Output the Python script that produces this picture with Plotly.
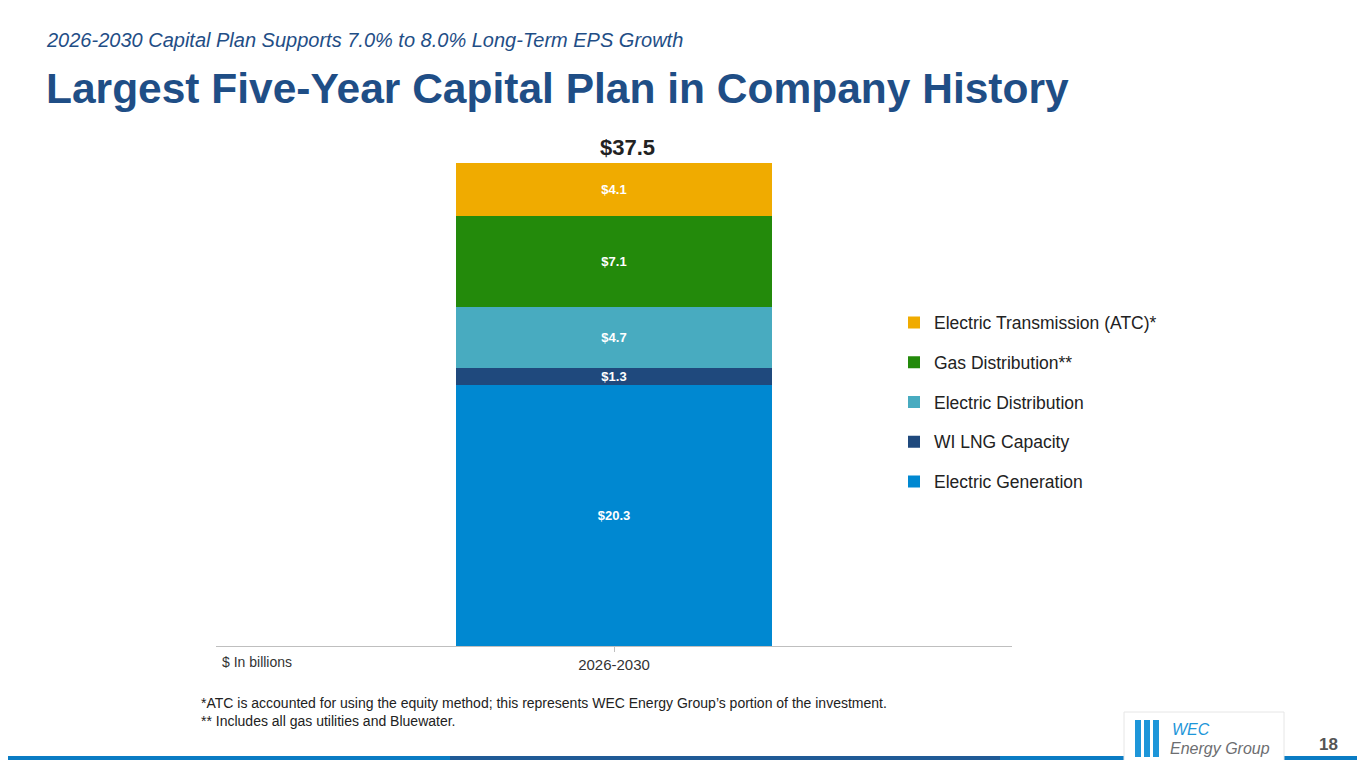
import plotly.graph_objects as go

category = ["2026-2030"]
segments = ["Electric Generation", "WI LNG Capacity", "Electric Distribution",
            "Gas Distribution**", "Electric Transmission (ATC)*"]
values = [20.3, 1.3, 4.7, 7.1, 4.1]
colors = ["#0088D1", "#1F497D", "#48ABC0", "#238A0B", "#F0AB00"]
total = 37.5


def px(x):  # reference pixel -> paper x
    return (x - 216) / 796


def py(y):  # reference pixel -> paper y
    return (646 - y) / 483


fig = go.Figure()
for i, (name, v, c) in enumerate(zip(segments, values, colors)):
    fig.add_trace(go.Bar(
        x=category, y=[v], name=name, marker_color=c, marker_line_width=0,
        width=0.397, text=[f"${v}"], textposition="inside", insidetextanchor="middle",
        constraintext="none", cliponaxis=False,
        textfont=dict(color="white", size=13, family="Liberation Sans"),
        texttemplate="<b>%{text}</b>", legendgroup=name, legendrank=len(segments) - i,
    ))

fig.add_annotation(x=category[0], y=total, text=f"<b>${total}</b>", showarrow=False,
                   yanchor="bottom", yshift=1, xshift=13, font=dict(size=22, color="#222"))

fig.update_layout(
    width=1349, height=752, barmode="stack",
    margin=dict(l=208, r=345, t=155, b=114),
    paper_bgcolor="white", plot_bgcolor="white",
    font=dict(family="Liberation Sans", color="#333"),
    showlegend=True,
    legend=dict(x=px(894), y=py(402), yanchor="middle", traceorder="grouped",
                tracegroupgap=14, font=dict(size=17.5, color="#222"),
                itemwidth=30, bgcolor="rgba(0,0,0,0)"),
    xaxis=dict(range=[-0.5, 0.5], showline=True, linecolor="#BFBFBF", ticks="outside",
               tickcolor="#BFBFBF", ticklen=5, tickfont=dict(size=15, color="#333")),
    yaxis=dict(range=[0, total], visible=False),
)

# titles
fig.add_annotation(xref="paper", yref="paper", x=px(44), y=py(40), xanchor="left", yanchor="middle",
                   text="<i>2026-2030 Capital Plan Supports 7.0% to 8.0% Long-Term EPS Growth</i>",
                   showarrow=False, font=dict(size=20, color="#1F4E86"))
fig.add_annotation(xref="paper", yref="paper", x=px(44), y=py(88), xanchor="left", yanchor="middle",
                   text="<b>Largest Five-Year Capital Plan in Company History</b>",
                   showarrow=False, font=dict(size=42.5, color="#1F4E86"))

# notes
fig.add_annotation(xref="paper", yref="paper", x=px(220), y=py(662), xanchor="left", yanchor="middle",
                   text="$ In billions", showarrow=False, font=dict(size=14, color="#333"))
fig.add_annotation(xref="paper", yref="paper", x=px(199), y=py(693), xanchor="left", yanchor="top",
                   align="left", showarrow=False, font=dict(size=14, color="#222"),
                   text="*ATC is accounted for using the equity method; this represents WEC Energy Group’s portion of the investment.<br>** Includes all gas utilities and Bluewater.")

# bottom band
fig.add_shape(type="rect", xref="paper", yref="paper", x0=px(0), x1=px(1365), y0=py(768), y1=py(756),
              line_width=0, fillcolor="#0A7CC4", layer="below")
fig.add_shape(type="rect", xref="paper", yref="paper", x0=px(450), x1=px(1000), y0=py(768), y1=py(756),
              line_width=0, fillcolor="#1F5A96", layer="below")

# logo box
fig.add_shape(type="rect", xref="paper", yref="paper", x0=px(1124), x1=px(1284), y0=py(768), y1=py(712),
              line=dict(color="#E6E6E6", width=1), fillcolor="white")
for i in range(3):
    fig.add_shape(type="rect", xref="paper", yref="paper", x0=px(1135 + i * 9), x1=px(1141 + i * 9),
                  y0=py(757), y1=py(720), line_width=0, fillcolor="#1E96D9")
fig.add_annotation(xref="paper", yref="paper", x=px(1170), y=py(729), xanchor="left", yanchor="middle",
                   text="<i>WEC</i>", showarrow=False, font=dict(size=16, color="#1E96D9"))
fig.add_annotation(xref="paper", yref="paper", x=px(1168), y=py(748), xanchor="left", yanchor="middle",
                   text="<i>Energy Group</i>", showarrow=False, font=dict(size=16, color="#6D6E71"))
fig.add_annotation(xref="paper", yref="paper", x=px(1340), y=py(744), xanchor="right", yanchor="middle",
                   text="<b>18</b>", showarrow=False, font=dict(size=17, color="#555"))

fig.write_html("out.html")
